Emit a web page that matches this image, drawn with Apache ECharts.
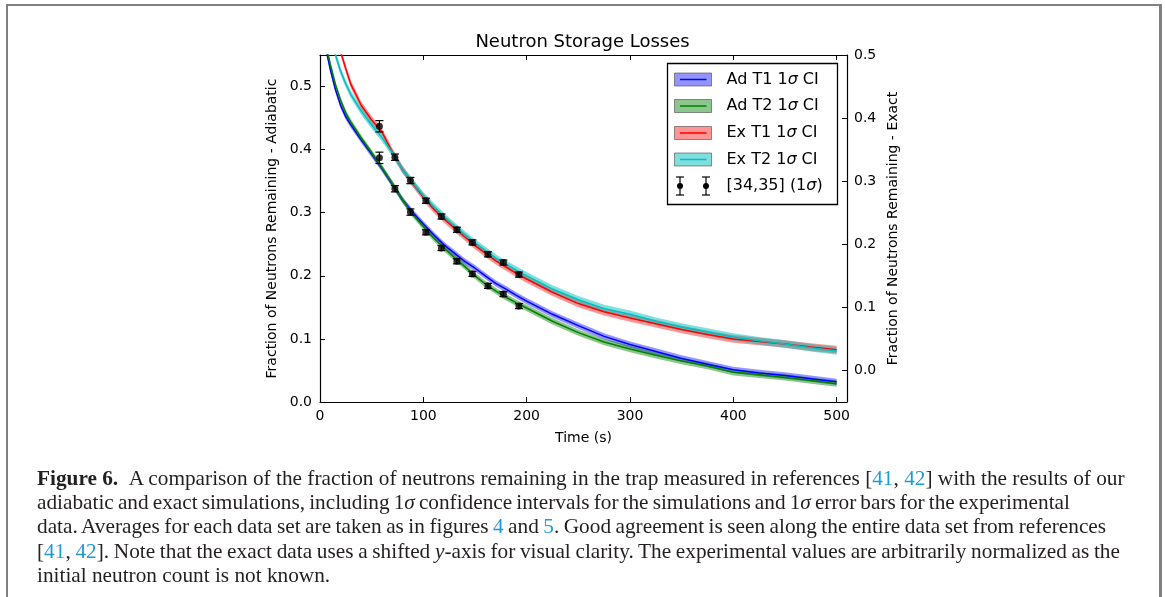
<!DOCTYPE html>
<html>
<head>
<meta charset="utf-8">
<script src="https://cdn.jsdelivr.net/npm/echarts@6/dist/echarts.min.js"></script>
<style>
  html, body { margin: 0; padding: 0; background: #fff; }
  #wrap { position: relative; width: 1165px; height: 597px; overflow: hidden; background: #fff; }
  #chart { position: absolute; left: 0; top: 0; width: 1165px; height: 597px; }
  #frame { position: absolute; left: 6px; top: 4px; width: 1151px; height: 620px;
           border-left: 2px solid #808080; border-top: 2px solid #808080; border-right: 3px solid #808080; }
  #caption { position: absolute; left: 37px; top: 466px; font-family: "Liberation Serif", "DejaVu Serif", serif;
             font-size: 19px; line-height: 24.2px; color: #231f20; white-space: nowrap; }
  #caption .ln { display: block; }
  #caption a { color: #1e9ad8; text-decoration: none; }
  #caption b { font-weight: bold; }
</style>
</head>
<body>
<div id="wrap">
  <div id="chart"></div>
  <div id="frame"></div>
  <div id="caption">
    <span class="ln"><span class="in"><b>Figure 6.</b>&nbsp;&nbsp;A comparison of the fraction of neutrons remaining in the trap measured in references [<a>41</a>, <a>42</a>] with the results of our</span></span>
    <span class="ln"><span class="in">adiabatic and exact simulations, including 1<i>σ</i> confidence intervals for the simulations and 1<i>σ</i> error bars for the experimental</span></span>
    <span class="ln"><span class="in">data. Averages for each data set are taken as in figures <a>4</a> and <a>5</a>. Good agreement is seen along the entire data set from references</span></span>
    <span class="ln"><span class="in">[<a>41</a>, <a>42</a>]. Note that the exact data uses a shifted <i>y</i>-axis for visual clarity. The experimental values are arbitrarily normalized as the</span></span>
    <span class="ln"><span class="in">initial neutron count is not known.</span></span>
  </div>
</div>
<script>
// ---- data ----
const timeS = [5,10,15,20,25,30,40,50,60,70,80,90,100,110,120,130,140,150,160,170,180,190,200,225,250,275,300,325,350,375,400,425,450,475,500];
// adiabatic (left axis)
const adT1 = [0.565,0.527,0.495,0.470,0.452,0.439,0.415,0.393,0.370,0.345,0.320,0.300,0.282,0.265,0.249,0.236,0.223,0.212,0.200,0.188,0.179,0.169,0.160,0.139,0.121,0.104,0.091,0.080,0.069,0.060,0.051,0.046,0.042,0.037,0.032];
const adT2 = [0.572,0.535,0.503,0.478,0.458,0.443,0.418,0.395,0.371,0.346,0.320,0.297,0.278,0.260,0.244,0.229,0.215,0.200,0.187,0.176,0.166,0.157,0.149,0.128,0.110,0.095,0.084,0.074,0.065,0.057,0.047,0.043,0.039,0.034,0.029];
// exact (right, shifted axis)
const exT1 = [0.590,0.560,0.530,0.505,0.478,0.453,0.420,0.397,0.378,0.346,0.318,0.296,0.275,0.256,0.240,0.226,0.212,0.198,0.186,0.174,0.164,0.154,0.145,0.124,0.106,0.093,0.083,0.074,0.065,0.057,0.050,0.046,0.042,0.037,0.033];
const exT2 = [0.570,0.535,0.500,0.474,0.454,0.437,0.411,0.389,0.369,0.345,0.318,0.297,0.277,0.260,0.244,0.229,0.215,0.202,0.190,0.178,0.168,0.159,0.150,0.129,0.112,0.098,0.089,0.078,0.069,0.061,0.053,0.047,0.042,0.036,0.031];
// 1-sigma CI half widths
const ciAdT1 = 0.005, ciAdT2 = 0.005, ciExT1 = 0.006, ciExT2 = 0.006;
// experimental data [34,35]
const expT = [57.5,72.5,87.5,102.5,117.5,132.5,147.5,162.5,177.5,192.5];
const expV = [0.387,0.338,0.301,0.269,0.244,0.223,0.203,0.184,0.171,0.152];
const expErr = [0.009,0.005,0.005,0.004,0.004,0.004,0.004,0.004,0.004,0.004];
// ticks
const xTicks = [0,100,200,300,400,500];
const yTicks = [0,0.1,0.2,0.3,0.4,0.5];
const seriesNames = ['Ad T1 1σ CI','Ad T2 1σ CI','Ex T1 1σ CI','Ex T2 1σ CI'];

// ---- fit caption lines to the reference line widths (last line left natural) ----
(function(){
  const targets = [1088, 1033, 1069, 1083];
  const cap = document.getElementById('caption');
  const lines = Array.from(cap.querySelectorAll('.in'));
  const w0 = lines[0].getBoundingClientRect().width;
  cap.style.fontSize = (19 * targets[0] / w0).toFixed(2) + 'px';
  lines.forEach((el, i) => {
    if (i === 0 || i >= targets.length) return;
    const w = el.getBoundingClientRect().width;
    const spaces = (el.textContent.match(/ /g) || []).length;
    if (spaces > 0) el.style.wordSpacing = ((targets[i] - w) / spaces).toFixed(2) + 'px';
  });
})();

const FONT = 'DejaVu Sans';
const lineColors = ['#0000ff','#008000','#ff0000','#00bfbf'];
const bandColors = ['rgba(0,0,255,0.42)','rgba(0,128,0,0.45)','rgba(255,0,0,0.42)','rgba(0,191,191,0.5)'];

function pairs(arr) { return timeS.map((t,i) => [t, arr[i]]); }

const curves = [
  {name: seriesNames[0], v: adT1, ci: ciAdT1, axis: 0},
  {name: seriesNames[1], v: adT2, ci: ciAdT2, axis: 0},
  {name: seriesNames[2], v: exT1, ci: ciExT1, axis: 1},
  {name: seriesNames[3], v: exT2, ci: ciExT2, axis: 1}
];

const series = [];
curves.forEach((c, k) => {
  // CI band: one polygon through the axis scales
  series.push({
    type: 'custom', name: c.name + ' band', yAxisIndex: c.axis, silent: true, clip: true, z: 2 + k,
    data: pairs(c.v), encode: {x: 0, y: 1},
    renderItem: function(params, api) {
      if (params.dataIndex !== 0) return null;
      const upper = timeS.map((t,i) => api.coord([t, c.v[i] + c.ci]));
      const lower = timeS.map((t,i) => api.coord([t, c.v[i] - c.ci])).reverse();
      const cs = params.coordSys;
      return {type: 'polygon', shape: {points: upper.concat(lower)},
        style: {fill: bandColors[k], stroke: 'none'},
        clipPath: {type: 'rect', shape: {x: cs.x, y: cs.y, width: cs.width, height: cs.height}}};
    }
  });
  series.push({
    type: 'line', name: c.name, yAxisIndex: c.axis,
    data: pairs(c.v), showSymbol: false, symbol: 'none',
    lineStyle: {color: lineColors[k], width: 1.5}, z: 10 + k
  });
});

const expData = expT.map((t,i) => [t, expV[i], expErr[i]]);
[0,1].forEach(ax => {
  series.push({
    type: 'custom', name: '[34,35] (1σ) bars ' + ax, yAxisIndex: ax, z: 20,
    data: expData, encode: {x: 0, y: 1},
    renderItem: function(params, api) {
      const t = api.value(0), v = api.value(1), e = api.value(2);
      const top = api.coord([t, v + e]), bot = api.coord([t, v - e]);
      const w = 4;
      const st = {stroke: '#000', lineWidth: 1.2};
      return {type: 'group', children: [
        {type: 'line', shape: {x1: top[0], y1: top[1], x2: bot[0], y2: bot[1]}, style: st},
        {type: 'line', shape: {x1: top[0]-w, y1: top[1], x2: top[0]+w, y2: top[1]}, style: st},
        {type: 'line', shape: {x1: bot[0]-w, y1: bot[1], x2: bot[0]+w, y2: bot[1]}, style: st}
      ]};
    }
  });
  series.push({
    type: 'scatter', name: '[34,35] (1σ) ' + ax, yAxisIndex: ax, z: 21,
    data: expT.map((t,i) => [t, expV[i]]), symbol: 'circle', symbolSize: 7,
    itemStyle: {color: '#000'}
  });
});

// ---- legend drawn as graphics ----
const LX = 667.5, LY = 63.5, LW = 170, LH = 141;
const rowY = [79.5, 106, 133, 159.5, 186];
const legendEls = [{type: 'rect', shape: {x: LX, y: LY, width: LW, height: LH},
  style: {fill: '#fff', stroke: '#000', lineWidth: 1.3}, z: 100}];
const rich = {
  n: {fontFamily: FONT, fontSize: 16, color: '#000'},
  s: {fontFamily: FONT, fontSize: 16, color: '#000', fontStyle: 'italic'}
};
curves.forEach((c, k) => {
  const y = rowY[k];
  legendEls.push({type: 'rect', shape: {x: 674.5, y: y - 6.5, width: 37, height: 13},
    style: {fill: bandColors[k], stroke: 'rgba(60,60,60,0.55)', lineWidth: 1}, z: 101});
  legendEls.push({type: 'line', shape: {x1: 680, y1: y, x2: 706.5, y2: y},
    style: {stroke: lineColors[k], lineWidth: 1.5}, z: 102});
  const parts = c.name.split('σ');
  legendEls.push({type: 'text', x: 726.5, y: y, z: 102,
    style: {text: '{n|' + parts[0] + '}{s|σ}{n|' + parts[1] + '}', rich: rich,
      verticalAlign: 'middle', align: 'left'}});
});
[680, 706].forEach(x => {
  const y = rowY[4];
  const st = {stroke: '#000', lineWidth: 1.2};
  legendEls.push({type: 'line', shape: {x1: x, y1: y - 9, x2: x, y2: y + 9}, style: st, z: 102});
  legendEls.push({type: 'line', shape: {x1: x - 4, y1: y - 9, x2: x + 4, y2: y - 9}, style: st, z: 102});
  legendEls.push({type: 'line', shape: {x1: x - 4, y1: y + 9, x2: x + 4, y2: y + 9}, style: st, z: 102});
  legendEls.push({type: 'circle', shape: {cx: x, cy: y, r: 3}, style: {fill: '#000'}, z: 103});
});
legendEls.push({type: 'text', x: 726.5, y: rowY[4], z: 102,
  style: {text: '{n|[34,35] (1}{s|σ}{n|)}', rich: rich, verticalAlign: 'middle', align: 'left'}});

const axisCommon = {
  axisLine: {show: true, onZero: false, lineStyle: {color: '#000', width: 1.2}},
  splitLine: {show: false}
};
const labelStyle = {fontFamily: FONT, fontSize: 14, color: '#000'};

const option = {
  animation: false,
  backgroundColor: '#fff',
  title: {text: 'Neutron Storage Losses', left: 'center', top: 28,
    textStyle: {fontFamily: FONT, fontSize: 18, fontWeight: 'normal', color: '#000'}},
  grid: {left: 320, right: 318, top: 55, bottom: 195, containLabel: false, outerBoundsMode: 'none'},
  xAxis: [
    Object.assign({type: 'value', min: 0, max: 510, position: 'bottom',
      axisTick: {show: true, inside: true, length: 5, customValues: xTicks, lineStyle: {color: '#000'}},
      axisLabel: Object.assign({customValues: xTicks, margin: 7}, labelStyle),
      name: 'Time (s)', nameLocation: 'middle', nameGap: 29, nameTextStyle: labelStyle}, axisCommon),
    Object.assign({type: 'value', min: 0, max: 510, position: 'top',
      axisTick: {show: true, inside: true, length: 5, customValues: xTicks, lineStyle: {color: '#000'}},
      axisLabel: {show: false}}, axisCommon)
  ],
  yAxis: [
    Object.assign({type: 'value', min: 0, max: 0.55, position: 'left',
      axisTick: {show: true, inside: true, length: 5, customValues: yTicks, lineStyle: {color: '#000'}},
      axisLabel: Object.assign({customValues: yTicks, margin: 8, formatter: v => v.toFixed(1)}, labelStyle),
      name: 'Fraction of Neutrons Remaining - Adiabatic', nameLocation: 'middle', nameRotate: 90, nameGap: 41,
      nameTextStyle: labelStyle}, axisCommon),
    Object.assign({type: 'value', min: -0.05, max: 0.5, position: 'right',
      axisTick: {show: true, inside: true, length: 5, customValues: yTicks, lineStyle: {color: '#000'}},
      axisLabel: Object.assign({customValues: yTicks, margin: 7, formatter: v => v.toFixed(1)}, labelStyle),
      name: 'Fraction of Neutrons Remaining - Exact', nameLocation: 'middle', nameRotate: 90, nameGap: 39,
      nameTextStyle: labelStyle}, axisCommon)
  ],
  graphic: legendEls,
  series: series
};

const chart = echarts.init(document.getElementById('chart'), null, {renderer: 'canvas'});
chart.setOption(option);
</script>
</body>
</html>
